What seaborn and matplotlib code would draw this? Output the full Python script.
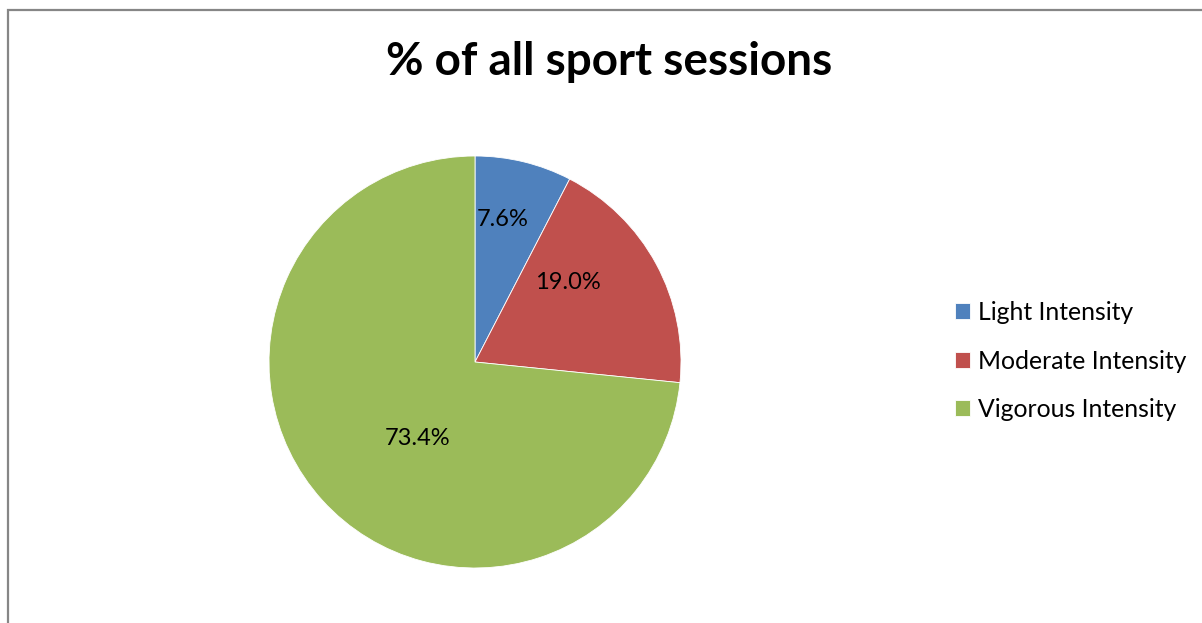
import matplotlib
matplotlib.use("Agg")
import matplotlib.pyplot as plt
from matplotlib.patches import Rectangle
import seaborn as sns

categories = ["Light Intensity", "Moderate Intensity", "Vigorous Intensity"]
shares = [7.6, 19.0, 73.4]
colors = ["#4F81BD", "#C0504D", "#9BBB59"]
title = "% of all sport sessions"

sns.set_theme(style="white")
plt.rcParams["font.family"] = ["Lato", "DejaVu Sans"]
plt.rcParams["text.color"] = "black"

W, H = 1202, 623
fig = plt.figure(figsize=(W / 100, H / 100), dpi=100)
fig.patch.set_facecolor("white")

# chart-area frame (left and top edges visible)
fig.add_artist(Rectangle((8 / W, -0.05), 1.2, (H - 10) / H + 0.05,
                         transform=fig.transFigure, fill=False,
                         edgecolor="#868686", linewidth=1.6))

cx, cy, r = 475, 362, 206
ax = fig.add_axes([(cx - r) / W, (H - cy - r) / H, 2 * r / W, 2 * r / H])
wedges, _, autotexts = ax.pie(
    shares, colors=colors, startangle=90, counterclock=False,
    autopct=lambda p: f"{p:.1f}%", pctdistance=0.6,
    wedgeprops=dict(edgecolor="white", linewidth=0.6),
    textprops=dict(fontsize=17, color="black"),
)
label_pos = [(0.136, 0.694), (0.451, 0.388), (-0.277, -0.369)]
for t, pos in zip(autotexts, label_pos):
    t.set_position(pos)
ax.set_xlim(-1, 1)
ax.set_ylim(-1, 1)
ax.set_aspect("equal")
ax.axis("off")

fig.text(609 / W, 1 - 62 / H, title, ha="center", va="center",
         fontsize=33, fontweight="bold", color="black")

leg = fig.legend(wedges, categories, loc="center left",
                 bbox_to_anchor=(933 / W, 1 - 361 / H), frameon=False,
                 fontsize=17.8, handlelength=0.6, handleheight=0.6,
                 handletextpad=0.3, labelspacing=1.03, labelcolor="black")

fig.savefig("out.png", dpi=100, facecolor="white")
